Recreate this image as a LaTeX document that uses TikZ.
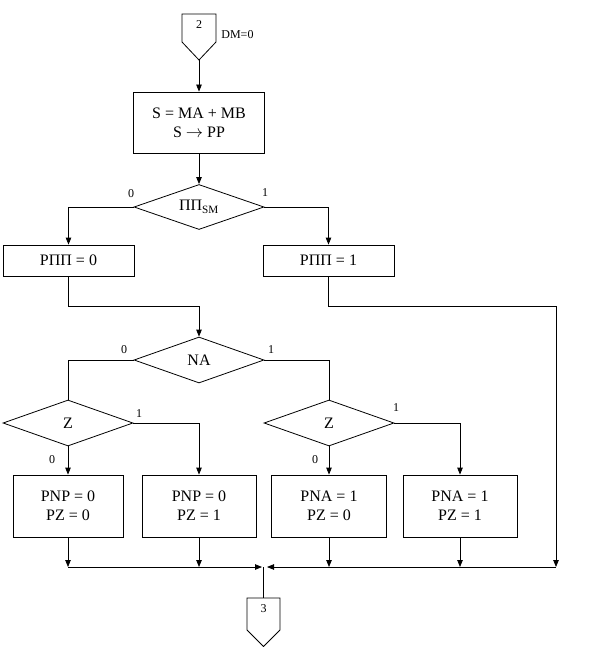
\documentclass[tikz,border=0pt]{standalone}
\usepackage{fontspec}
\setmainfont{Liberation Serif}
\usetikzlibrary{arrows.meta,shapes.geometric,calc}
\begin{document}
\begin{tikzpicture}[x=1pt,y=-1pt,
  line width=0.8pt,
  procbox/.style={draw, rectangle, inner sep=0pt, font=\fontsize{16}{19}\selectfont, align=center},
  decision/.style={draw, diamond, aspect=3, inner sep=0pt, minimum width=130, minimum height=46, font=\fontsize{16}{19}\selectfont},
  lbl/.style={font=\fontsize{12}{14}\selectfont, inner sep=0pt},
  arr/.style={-{Triangle[length=7pt,width=5.5pt]}}
]
\useasboundingbox (0,0) rectangle (592,647);

% off-page connector 2
\draw (182,14) -- (216,14) -- (216,42) -- (199,60) -- (182,42) -- cycle;
\node[lbl] (n2) at (199,25) {2};
\coordinate (c2tip) at (199,60);
\node[lbl, anchor=west] (om) at (221,35) {DM=0};

% nodes
\node[procbox, minimum width=131, minimum height=61] (s) at (199,122.5) {S = MA + MB\\S $\rightarrow$ PP};
\node[decision, minimum height=45] (d1) at (199,207) {ПП\textsubscript{SM}};
\node[procbox, minimum width=131, minimum height=31] (p0) at (68.5,260.5) {РПП = 0};
\node[procbox, minimum width=131, minimum height=31] (p1) at (328.5,260.5) {РПП = 1};
\node[decision] (na) at (199,360) {NA};
\node[decision] (z1) at (68,423) {Z};
\node[decision] (z2) at (329,423) {Z};
\node[procbox, minimum width=110, minimum height=62] (b1) at (68,506) {PNP = 0\\PZ = 0};
\node[procbox, minimum width=114, minimum height=62] (b2) at (199,506) {PNP = 0\\PZ = 1};
\node[procbox, minimum width=115, minimum height=62] (b3) at (329,506) {PNA = 1\\PZ = 0};
\node[procbox, minimum width=114, minimum height=62] (b4) at (460,506) {PNA = 1\\PZ = 1};

% helper coordinates
\coordinate (j1) at (199,306);
\coordinate (k1) at (556,306);
\coordinate (mr) at (556,567);
\coordinate (m) at (263,567);
\coordinate (mL) at (262,567);
\coordinate (mR) at (267,567);

% off-page connector 3
\draw (247,598) -- (280,598) -- (280,630) -- (263.5,646.5) -- (247,630) -- cycle;
\node[lbl] (n3) at (263.5,609) {3};
\coordinate (c3top) at (263,598);

% branch labels
\node[lbl] (l1) at (131,194) {0};
\node[lbl] (l2) at (265,193) {1};
\node[lbl] (l3) at (124,350) {0};
\node[lbl] (l4) at (271,350) {1};
\node[lbl] (l5) at (52,460) {0};
\node[lbl] (l6) at (139,414) {1};
\node[lbl] (l7) at (315,460) {0};
\node[lbl] (l8) at (396,408) {1};

% connectors
\draw[arr] (c2tip) -- (s.north);
\draw[arr] (s.south) -- (d1.north);
\draw[arr] (d1.west) -| (p0.north);
\draw[arr] (d1.east) -| (p1.north);
\draw[arr] (p0.south) |- (j1) -- (na.north);
\draw[arr] (p1.south) |- (k1) -- (mr);
\draw (na.west) -| (z1.north);
\draw (na.east) -| (z2.north);
\draw[arr] (z1.south) -- (b1.north);
\draw[arr] (z1.east) -| (b2.north);
\draw[arr] (z2.south) -- (b3.north);
\draw[arr] (z2.east) -| (b4.north);
\draw[arr] (b1.south) -- (b1.south |- m);
\draw[arr] (b2.south) -- (b2.south |- m);
\draw[arr] (b3.south) -- (b3.south |- m);
\draw[arr] (b4.south) -- (b4.south |- m);
\draw[arr] (b1.south |- m) -- (mL);
\draw[arr] (mr) -- (mR);
\draw (m) -- (c3top);
\end{tikzpicture}
\end{document}
